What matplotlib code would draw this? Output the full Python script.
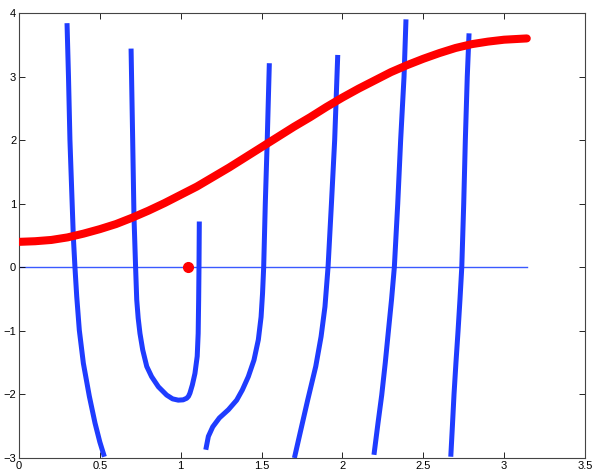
import matplotlib

matplotlib.use("Agg")
import matplotlib.pyplot as plt

red_x = [0.0, 0.1, 0.2, 0.3, 0.4, 0.5, 0.6, 0.7, 0.8, 0.9, 1.0, 1.1, 1.2, 1.3, 1.4,
         1.5, 1.6, 1.7, 1.8, 1.9, 2.0, 2.1, 2.2, 2.3, 2.4, 2.5, 2.6, 2.7, 2.8, 2.9,
         3.0, 3.14]
red_y = [0.40, 0.41, 0.43, 0.47, 0.53, 0.60, 0.68, 0.78, 0.89, 1.01, 1.14, 1.27,
         1.42, 1.57, 1.73, 1.89, 2.05, 2.21, 2.36, 2.52, 2.67, 2.81, 2.94, 3.07,
         3.18, 3.28, 3.37, 3.45, 3.51, 3.55, 3.58, 3.60]

# blue branches
b1_x = [0.297, 0.306, 0.315, 0.326, 0.336, 0.346, 0.357, 0.373, 0.398, 0.435, 0.470, 0.500, 0.528]
b1_y = [3.84, 3.0, 2.0, 1.2, 0.48, 0.0, -0.46, -0.99, -1.51, -2.03, -2.45, -2.75, -2.98]

b2_x = [0.693, 0.703, 0.711, 0.716, 0.721, 0.728, 0.737, 0.748, 0.765, 0.790, 0.820,
        0.862, 0.913, 0.950, 0.985, 1.015, 1.037, 1.048, 1.057, 1.072, 1.088, 1.102,
        1.108, 1.111, 1.113, 1.115]
b2_y = [3.44, 2.0, 0.80, 0.40, 0.0, -0.51, -0.80, -1.04, -1.30, -1.56, -1.72,
        -1.88, -2.01, -2.07, -2.09, -2.085, -2.06, -2.03, -1.98, -1.85, -1.67, -1.40,
        -1.04, -0.5, 0.0, 0.72]

b3_x = [1.155, 1.171, 1.198, 1.239, 1.295, 1.346, 1.381, 1.418, 1.453, 1.480, 1.497,
        1.506, 1.513, 1.523, 1.535, 1.548]
b3_y = [-2.87, -2.66, -2.51, -2.37, -2.24, -2.09, -1.93, -1.72, -1.46, -1.14, -0.78,
        -0.41, 0.0, 1.0, 2.0, 3.21]

b4_x = [1.703, 1.738, 1.785, 1.835, 1.868, 1.892, 1.911, 1.932, 1.952, 1.971]
b4_y = [-3.0, -2.61, -2.09, -1.56, -1.09, -0.62, 0.0, 1.0, 2.0, 3.34]

b5_x = [2.195, 2.220, 2.243, 2.265, 2.284, 2.304, 2.321, 2.342, 2.360, 2.381, 2.393]
b5_y = [-2.95, -2.45, -2.01, -1.50, -1.01, -0.50, 0.0, 1.0, 2.0, 3.0, 3.90]

b6_x = [2.670, 2.680, 2.690, 2.702, 2.715, 2.727, 2.738, 2.750, 2.760, 2.772, 2.783]
b6_y = [-2.98, -2.5, -2.0, -1.5, -1.0, -0.5, 0.0, 1.0, 2.0, 3.0, 3.68]

baseline_x = [0.0, 3.14]
baseline_y = [0.0, 0.0]

root_x = [1.047]
root_y = [0.0]

x_ticks = [0, 0.5, 1, 1.5, 2, 2.5, 3, 3.5]
x_labels = ["0", "0.5", "1", "1.5", "2", "2.5", "3", "3.5"]
y_ticks = [-3, -2, -1, 0, 1, 2, 3, 4]
y_labels = ["\u22123", "\u22122", "\u22121", "0", "1", "2", "3", "4"]

BLUE = "#1f3cff"
RED = "#ff0000"

plt.rcParams["font.family"] = ["Liberation Sans", "DejaVu Sans"]

fig = plt.figure(figsize=(5.99, 4.75), dpi=100)
ax = fig.add_axes([19 / 599, 17 / 475, 566 / 599, 445 / 475])

ax.plot(baseline_x, baseline_y, color="#3a5aff", linewidth=1.0, zorder=1)
for bx, by in [(b1_x, b1_y), (b2_x, b2_y), (b3_x, b3_y),
               (b4_x, b4_y), (b5_x, b5_y), (b6_x, b6_y)]:
    ax.plot(bx, by, color=BLUE, linewidth=3.6, solid_capstyle="butt",
            solid_joinstyle="round", zorder=2)
ax.plot(red_x, red_y, color=RED, linewidth=5.8, solid_capstyle="round",
        solid_joinstyle="round", zorder=3)
ax.plot(root_x, root_y, "o", color=RED, markersize=7, zorder=4)

ax.set_xlim(0, 3.5)
ax.set_ylim(-3, 4)
ax.set_xticks(x_ticks)
ax.set_xticklabels(x_labels)
ax.set_yticks(y_ticks)
ax.set_yticklabels(y_labels)
ax.tick_params(direction="in", length=4, width=0.6, labelsize=8,
               top=True, right=True, pad=2)
for s in ax.spines.values():
    s.set_color("#444444")
    s.set_linewidth(0.8)

fig.savefig("out.png", dpi=100)
